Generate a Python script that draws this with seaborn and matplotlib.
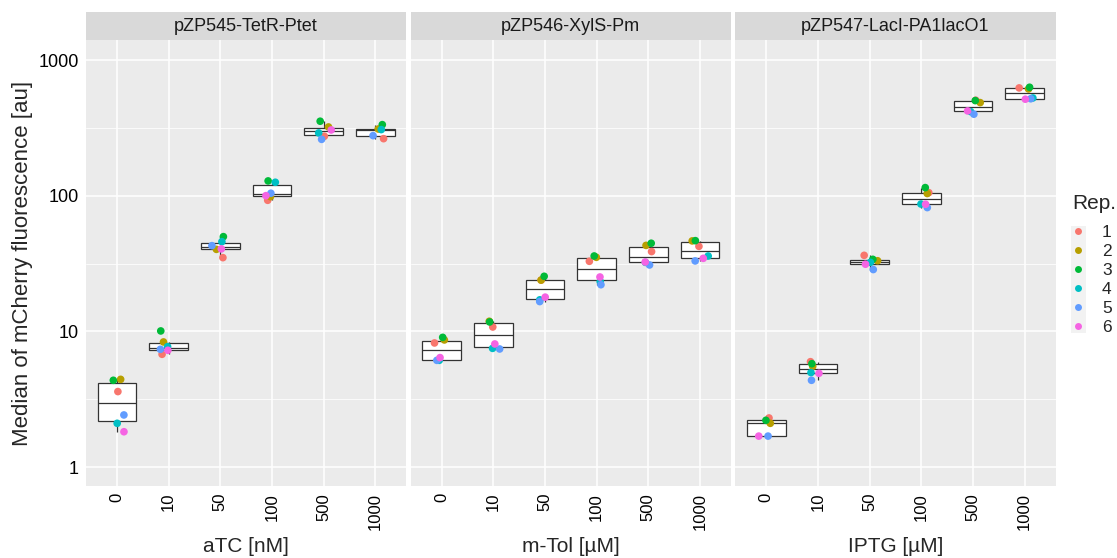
import numpy as np
import pandas as pd
import matplotlib
matplotlib.use("Agg")
import matplotlib.pyplot as plt
from matplotlib.patches import Rectangle
from matplotlib.lines import Line2D
import seaborn as sns

# Data (rows: concentration, columns: replicate 1..6)
concentrations = ["0", "10", "50", "100", "500", "1000"]
replicates = ["1", "2", "3", "4", "5", "6"]

tetr_values = [
    [3.60, 4.43, 4.36, 2.10, 2.42, 1.82],
    [6.78, 8.36, 10.08, 7.72, 7.38, 7.26],
    [35.0, 40.3, 50.0, 45.9, 42.9, 40.6],
    [92.7, 98.6, 128.8, 125.9, 104.5, 100.3],
    [275, 322, 355, 291, 261, 306],
    [264, 311, 335, 308, 278, np.nan],
]
xyls_values = [
    [8.22, 8.65, 9.04, 6.12, 6.12, 6.41],
    [10.78, 11.88, 11.74, 7.50, 7.42, 8.08],
    [23.9, 23.9, 25.5, 17.1, 16.6, 17.9],
    [32.9, 35.2, 36.0, 23.3, 22.1, 25.2],
    [38.8, 43.1, 44.7, 32.3, 30.9, 32.5],
    [42.4, 46.5, 46.7, 36.0, 33.1, 34.6],
]
laci_values = [
    [2.30, 2.10, 2.21, np.nan, 1.69, 1.69],
    [5.98, 5.53, 5.78, 4.97, 4.36, 4.91],
    [36.4, 33.2, 34.0, 32.3, 28.6, 31.3],
    [105.6, 104.0, 115.0, 87.0, 81.9, 86.7],
    [507, 487, 504, 418, 400, 423],
    [625, 614, 632, 527, 520, 516],
]

panel_titles = ["pZP545-TetR-Ptet", "pZP546-XylS-Pm", "pZP547-LacI-PA1lacO1"]
x_titles = ["aTC [nM]", "m-Tol [µM]", "IPTG [µM]"]
rep_colors = ["#F8766D", "#B79F00", "#00BA38", "#00BFC4", "#619CFF", "#F564E3"]


def to_long(values):
    rows = []
    for conc, vals in zip(concentrations, values):
        for rep, v in zip(replicates, vals):
            if not np.isnan(v):
                rows.append({"conc": conc, "rep": rep, "value": v})
    return pd.DataFrame(rows)


sns.set_style("darkgrid")
plt.rcParams["font.family"] = ["Liberation Sans", "DejaVu Sans"]

fig, axes = plt.subplots(1, 3, figsize=(11.17, 5.58), dpi=100, sharey=True)
fig.subplots_adjust(left=0.077, right=0.945, top=0.928, bottom=0.129, wspace=0.014)

np.random.seed(3)
palette = dict(zip(replicates, rep_colors))
for ax, values, title, xt in zip(axes, [tetr_values, xyls_values, laci_values],
                                 panel_titles, x_titles):
    df = to_long(values)
    ax.set_facecolor("#EBEBEB")
    ax.set_yscale("log")
    sns.boxplot(data=df, x="conc", y="value", order=concentrations, ax=ax,
                width=0.75, color="white", showfliers=False, showcaps=False,
                linecolor="#333333", linewidth=0.9)
    sns.stripplot(data=df, x="conc", y="value", hue="rep", order=concentrations,
                  hue_order=replicates, palette=palette, jitter=0.17, size=5.5,
                  linewidth=0, ax=ax, legend=False, zorder=3)
    ax.set_xlim(-0.6, 5.6)
    ax.set_ylim(0.724, 1406)
    ax.set_yticks([1, 10, 100, 1000])
    ax.set_yticks([10 ** 0.5, 10 ** 1.5, 10 ** 2.5], minor=True)
    ax.yaxis.set_major_formatter(plt.FuncFormatter(lambda v, p: f"{v:g}"))
    ax.yaxis.set_minor_formatter(plt.NullFormatter())
    ax.grid(which="major", color="white", linewidth=1.1)
    ax.grid(which="minor", axis="y", color="white", linewidth=0.55)
    ax.set_axisbelow(True)
    for s in ax.spines.values():
        s.set_visible(False)
    ax.tick_params(axis="both", which="major", length=3, color="#333333",
                   labelcolor="black")
    ax.tick_params(axis="y", which="minor", length=0)
    ax.tick_params(axis="x", labelsize=12, labelrotation=90, pad=2)
    ax.tick_params(axis="y", labelsize=13, pad=2)
    ax.set_xlabel(xt, fontsize=15, labelpad=5)
    ax.set_ylabel("")
    # facet strip
    ax.add_patch(Rectangle((0, 1.0), 1, 0.063, transform=ax.transAxes,
                           facecolor="#D9D9D9", edgecolor="none", clip_on=False))
    ax.text(0.5, 1.0315, title, transform=ax.transAxes, ha="center", va="center",
            fontsize=13, color="#1A1A1A")

axes[0].set_ylabel("Median of mCherry fluorescence [au]", fontsize=16, labelpad=4)

# legend: title, grey key column, entries
fig.text(0.9595, 0.636, "Rep.", ha="left", va="center", fontsize=15)
fig.patches.append(Rectangle((0.9587, 0.403), 0.0135, 0.192, transform=fig.transFigure,
                             facecolor="#F2F2F2", edgecolor="none", zorder=0))
handles = [Line2D([], [], marker="o", linestyle="", markersize=5,
                  markerfacecolor=c, markeredgewidth=0) for c in rep_colors]
leg = fig.legend(handles, replicates, loc="upper left",
                 bbox_to_anchor=(0.957, 0.597), frameon=False, fontsize=12.5,
                 handletextpad=0.9, labelspacing=0.22,
                 handlelength=1.0, borderaxespad=0, borderpad=0)

fig.savefig("out.png", dpi=100)
